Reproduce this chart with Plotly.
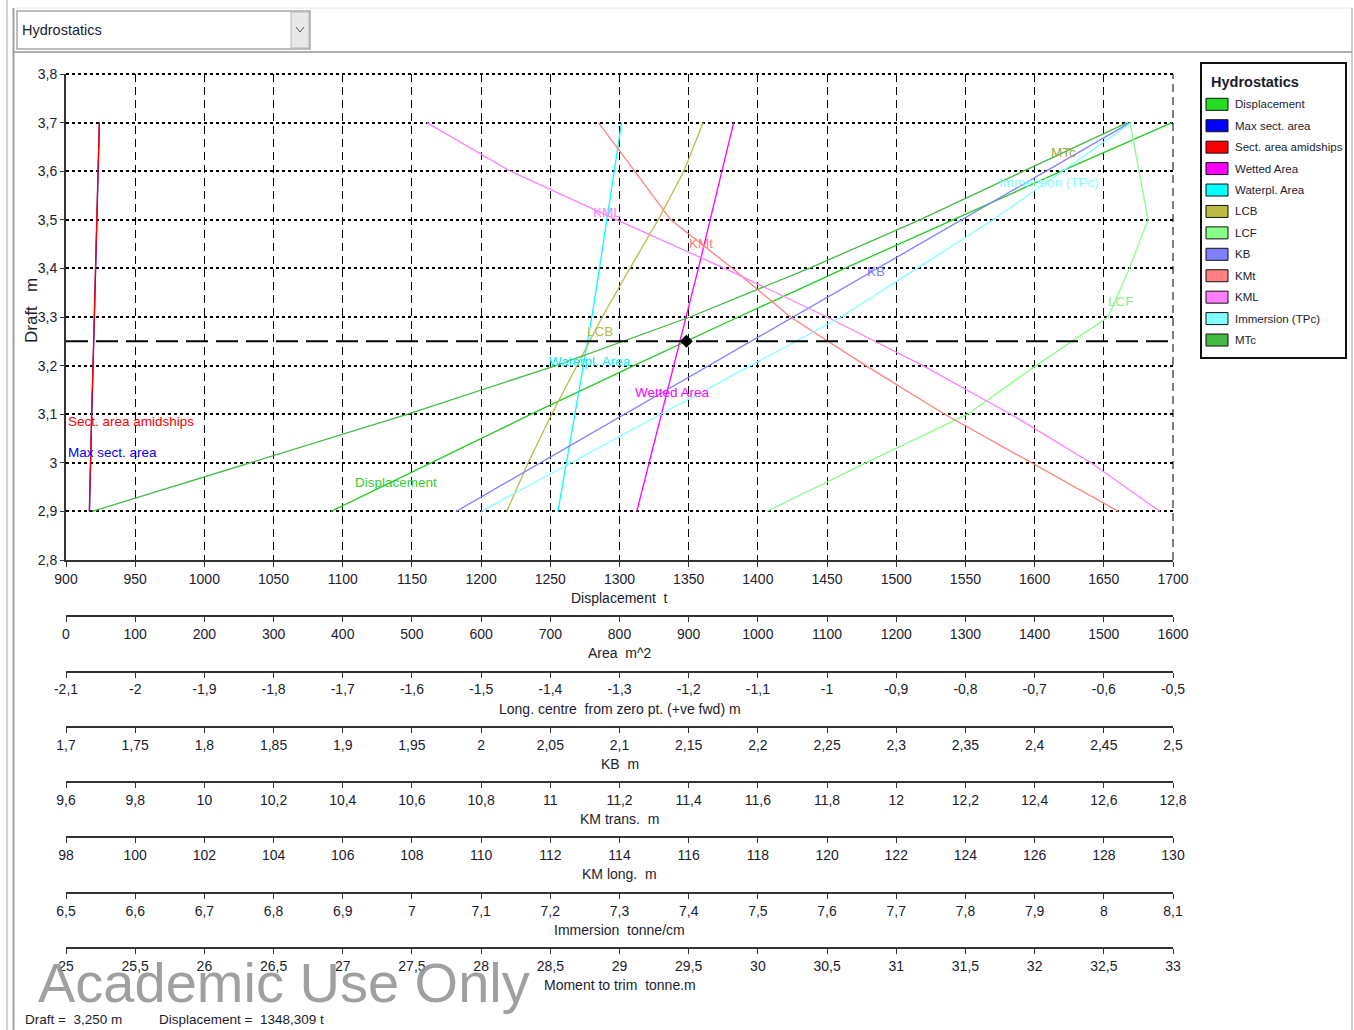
import plotly.graph_objects as go

# ---------------- data ----------------
drafts = [2.9, 3.0, 3.1, 3.2, 3.3, 3.4, 3.5, 3.6, 3.7]
displacement = [1091.5, 1163.2, 1236.1, 1310.4, 1385.9, 1462.7, 1540.5, 1619.4, 1699.3]
max_sect_area = [33.9, 35.2, 37.2, 39.2, 41.1, 42.8, 44.7, 46.6, 48.3]
sect_area_amidships = [33.7, 35.0, 37.0, 39.0, 40.9, 42.6, 44.5, 46.4, 48.1]
wetted_area = [825, 843, 861, 879, 896, 914, 931, 948, 965]
waterpl_area = [711, 723.5, 736, 748, 760, 771, 782, 793, 803]
lcb = [-1.463, -1.432, -1.398, -1.362, -1.325, -1.285, -1.244, -1.207, -1.179]
lcf = [-1.087, -0.944, -0.797, -0.698, -0.594, -0.563, -0.536, -0.549, -0.562]
kb = [1.982, 2.043, 2.104, 2.165, 2.226, 2.287, 2.347, 2.408, 2.469]
kmt = [12.642, 12.39, 12.14, 11.912, 11.694, 11.527, 11.348, 11.244, 11.139]
kml = [129.62, 127.63, 125.31, 122.77, 120.0, 117.04, 113.92, 110.85, 108.43]
immersion = [7.10, 7.23, 7.36, 7.49, 7.62, 7.73, 7.84, 7.94, 8.04]
mtc = [25.19, 26.33, 27.47, 28.54, 29.51, 30.37, 31.17, 31.92, 32.67]

current_draft = 3.25
current_displacement = 1348.309

draft_tick_labels = ["2,8", "2,9", "3", "3,1", "3,2", "3,3", "3,4", "3,5", "3,6", "3,7", "3,8"]
disp_tick_labels = ["900", "950", "1000", "1050", "1100", "1150", "1200", "1250", "1300", "1350",
                    "1400", "1450", "1500", "1550", "1600", "1650", "1700"]
area_tick_labels = ["0", "100", "200", "300", "400", "500", "600", "700", "800", "900",
                    "1000", "1100", "1200", "1300", "1400", "1500", "1600"]
lc_tick_labels = ["-2,1", "-2", "-1,9", "-1,8", "-1,7", "-1,6", "-1,5", "-1,4", "-1,3", "-1,2",
                  "-1,1", "-1", "-0,9", "-0,8", "-0,7", "-0,6", "-0,5"]
kb_tick_labels = ["1,7", "1,75", "1,8", "1,85", "1,9", "1,95", "2", "2,05", "2,1", "2,15",
                  "2,2", "2,25", "2,3", "2,35", "2,4", "2,45", "2,5"]
kmt_tick_labels = ["9,6", "9,8", "10", "10,2", "10,4", "10,6", "10,8", "11", "11,2", "11,4",
                   "11,6", "11,8", "12", "12,2", "12,4", "12,6", "12,8"]
kml_tick_labels = ["98", "100", "102", "104", "106", "108", "110", "112", "114", "116",
                   "118", "120", "122", "124", "126", "128", "130"]
imm_tick_labels = ["6,5", "6,6", "6,7", "6,8", "6,9", "7", "7,1", "7,2", "7,3", "7,4",
                   "7,5", "7,6", "7,7", "7,8", "7,9", "8", "8,1"]
mtc_tick_labels = ["25", "25,5", "26", "26,5", "27", "27,5", "28", "28,5", "29", "29,5",
                   "30", "30,5", "31", "31,5", "32", "32,5", "33"]

legend_names = ["Displacement", "Max sect. area", "Sect. area amidships", "Wetted Area",
                "Waterpl. Area", "LCB", "LCF", "KB", "KMt", "KML", "Immersion (TPc)", "MTc"]

# ---------------- helpers / styles ----------------
W, H = 1354, 1030
FONT = "Liberation Sans Narrow, Arial Narrow, Liberation Sans, Arial, sans-serif"
TXT = "#1c1c2c"


def px(x):
    return x / W


def py(y):
    return 1 - y / H


def num(labels):
    return [float(s.replace(",", ".")) for s in labels]


COLORS = {
    "Displacement": "#22cc22", "Max sect. area": "#0000ff", "Sect. area amidships": "#ff0000",
    "Wetted Area": "#ff00ff", "Waterpl. Area": "#00ffff", "LCB": "#bbbb44", "LCF": "#88ff88",
    "KB": "#8080ff", "KMt": "#ff8080", "KML": "#ff80ff", "Immersion (TPc)": "#80ffff", "MTc": "#44bb44",
}
LEG_COLORS = dict(COLORS, **{"Displacement": "#22dd22"})

fig = go.Figure()

series = [
    ("Displacement", displacement, "x"),
    ("Max sect. area", max_sect_area, "x2"),
    ("Sect. area amidships", sect_area_amidships, "x2"),
    ("Wetted Area", wetted_area, "x2"),
    ("Waterpl. Area", waterpl_area, "x2"),
    ("LCB", lcb, "x3"),
    ("LCF", lcf, "x3"),
    ("KB", kb, "x4"),
    ("KMt", kmt, "x5"),
    ("KML", kml, "x6"),
    ("Immersion (TPc)", immersion, "x7"),
    ("MTc", mtc, "x8"),
]
for name, vals, xa in series:
    fig.add_trace(go.Scatter(x=vals, y=drafts, xaxis=xa, yaxis="y", mode="lines", name=name,
                             line=dict(color=COLORS[name], width=1.3), showlegend=False,
                             hoverinfo="skip"))

fig.add_trace(go.Scatter(x=[current_displacement], y=[current_draft], xaxis="x", yaxis="y",
                         mode="markers", marker=dict(symbol="diamond", size=10, color="black"),
                         showlegend=False, hoverinfo="skip"))

# ---------------- axes ----------------
x_dom = [px(66), px(1173)]
common = dict(showline=True, linecolor="#333333", linewidth=2, ticks="outside", ticklen=5,
              tickcolor="#333333", tickwidth=1, zeroline=False, tickmode="array",
              automargin=False,
              tickfont=dict(family=FONT, size=14, color=TXT), fixedrange=True)

layout_axes = {}
dv = num(disp_tick_labels)
layout_axes["xaxis"] = dict(domain=x_dom, range=[dv[0], dv[-1]], anchor="y", tickvals=dv,
                            ticktext=disp_tick_labels, showgrid=True, gridcolor="black",
                            gridwidth=1, griddash="8px,5px", **common)
yv = num(draft_tick_labels)
layout_axes["yaxis"] = dict(domain=[py(560), py(74)], range=[yv[0], yv[-1]], anchor="x",
                            tickvals=yv, ticktext=draft_tick_labels, showgrid=True,
                            gridcolor="black", gridwidth=2, griddash="3px,3px",
                            **dict(common, ticklen=4))

extra_axes = [
    (2, area_tick_labels, 616, "Area\u00a0\u00a0m^2"),
    (3, lc_tick_labels, 671.5, "Long. centre\u00a0\u00a0from zero pt. (+ve fwd) m"),
    (4, kb_tick_labels, 726.8, "KB\u00a0\u00a0m"),
    (5, kmt_tick_labels, 782, "KM trans.\u00a0\u00a0m"),
    (6, kml_tick_labels, 837.3, "KM long.\u00a0\u00a0m"),
    (7, imm_tick_labels, 892.7, "Immersion\u00a0\u00a0tonne/cm"),
    (8, mtc_tick_labels, 948, "Moment to trim\u00a0\u00a0tonne.m"),
]
annotations = []
for i, labels, line_y, title in extra_axes:
    v = num(labels)
    layout_axes[f"xaxis{i}"] = dict(domain=x_dom, range=[v[0], v[-1]], overlaying="x",
                                    anchor="free", position=py(line_y), side="bottom",
                                    tickvals=v, ticktext=labels, showgrid=False, **common)
    annotations.append(dict(text=title, x=px(619.5), y=py(line_y + 37), xref="paper", yref="paper",
                            xanchor="center", yanchor="middle", showarrow=False,
                            font=dict(family=FONT, size=14, color=TXT)))

annotations.append(dict(text="Displacement\u00a0\u00a0t", x=px(619.5), y=py(598), xref="paper",
                        yref="paper", xanchor="center", yanchor="middle", showarrow=False,
                        font=dict(family=FONT, size=14, color=TXT)))
annotations.append(dict(text="Draft\u00a0\u00a0\u00a0m", x=px(31), y=py(310), xref="paper",
                        yref="paper", xanchor="center", yanchor="middle", showarrow=False,
                        textangle=-90, font=dict(family="Liberation Sans, Arial, sans-serif",
                                                 size=17, color=TXT)))

# curve labels
curve_labels = [
    ("Sect. area amidships", 66, 421.5, "#ff0000"),
    ("Max sect. area", 66, 452, "#0000ff"),
    ("Displacement", 353, 482, "#33cc33"),
    ("Waterpl. Area", 547, 362, "#00eeee"),
    ("LCB", 585, 331.5, "#bbbb44"),
    ("Wetted Area", 633, 393, "#ff00ff"),
    ("KML", 591, 212.5, "#ff80ff"),
    ("KMt", 687, 243, "#ff8080"),
    ("KB", 865, 272, "#8080ff"),
    ("LCF", 1106, 301, "#88ee88"),
    ("Immersion (TPc)", 997, 182, "#80ffff"),
    ("MTc", 1049, 152, "#99aa44"),
]
for text, x, y, col in curve_labels:
    annotations.append(dict(text=text, x=px(x), y=py(y), xref="paper", yref="paper",
                            xanchor="left", yanchor="middle", showarrow=False,
                            font=dict(family=FONT, size=13.5, color=col)))

shapes = []
# current draft line and edge grid lines
shapes.append(dict(type="line", xref="x domain", yref="y", x0=0, x1=1, y0=current_draft,
                   y1=current_draft, line=dict(color="black", width=2, dash="22px,8px")))
shapes.append(dict(type="line", xref="x domain", yref="y domain", x0=1, x1=1, y0=0, y1=1,
                   line=dict(color="black", width=1, dash="8px,5px"), layer="below"))
shapes.append(dict(type="line", xref="x domain", yref="y domain", x0=0, x1=1, y0=1, y1=1,
                   line=dict(color="black", width=2, dash="3px,3px"), layer="below"))

# legend box
shapes.append(dict(type="rect", xref="paper", yref="paper", x0=px(1201), x1=px(1346),
                   y0=py(358), y1=py(63), line=dict(color="#111111", width=2), fillcolor="white"))
annotations.append(dict(text="<b>Hydrostatics</b>", x=px(1209), y=py(82), xref="paper",
                        yref="paper", xanchor="left", yanchor="middle", showarrow=False,
                        font=dict(family=FONT, size=14.5, color=TXT)))
for k, name in enumerate(legend_names):
    yc = 104.3 + k * 21.43
    shapes.append(dict(type="rect", xref="paper", yref="paper", x0=px(1206), x1=px(1228),
                       y0=py(yc + 6), y1=py(yc - 6), line=dict(color="#111111", width=1),
                       fillcolor=LEG_COLORS[name]))
    annotations.append(dict(text=name, x=px(1233), y=py(yc), xref="paper", yref="paper",
                            xanchor="left", yanchor="middle", showarrow=False,
                            font=dict(family=FONT, size=11.5, color=TXT)))

# window frame
frame = [
    (7, 0, 7, 1030, "#d4d4d4", 2),
    (13.5, 8, 13.5, 1030, "#a0a0a0", 2),
    (1352, 8, 1352, 1030, "#cfcfcf", 2),
    (14, 8, 1352, 8, "#e6e6e6", 1),
    (14, 52, 1352, 52, "#b0b0b0", 2),
]
for x0, y0, x1, y1, col, w in frame:
    shapes.append(dict(type="line", xref="paper", yref="paper", x0=px(x0), x1=px(x1),
                       y0=py(y0), y1=py(y1), line=dict(color=col, width=w)))

# dropdown
shapes.append(dict(type="rect", xref="paper", yref="paper", x0=px(17), x1=px(310),
                   y0=py(49), y1=py(11), line=dict(color="#a8a8a8", width=1.5), fillcolor="white"))
shapes.append(dict(type="rect", xref="paper", yref="paper", x0=px(291), x1=px(309),
                   y0=py(48), y1=py(12), line=dict(color="#b4b4b4", width=1), fillcolor="#e8e8e8"))
shapes.append(dict(type="path", xref="paper", yref="paper",
                   path=f"M {px(296)},{py(27)} L {px(300)},{py(32)} L {px(304)},{py(27)}",
                   line=dict(color="#555555", width=1)))
annotations.append(dict(text="Hydrostatics", x=px(20), y=py(30), xref="paper", yref="paper",
                        xanchor="left", yanchor="middle", showarrow=False,
                        font=dict(family=FONT, size=14.5, color=TXT)))

# status bar
draft_txt = f"{current_draft:.3f}".replace(".", ",")
disp_txt = f"{current_displacement:.3f}".replace(".", ",")
annotations.append(dict(text=f"Draft =\u00a0\u00a0{draft_txt} m", x=px(23), y=py(1019),
                        xref="paper", yref="paper", xanchor="left", yanchor="middle",
                        showarrow=False, font=dict(family=FONT, size=13.5, color=TXT)))
annotations.append(dict(text=f"Displacement =\u00a0\u00a0{disp_txt} t", x=px(157), y=py(1019),
                        xref="paper", yref="paper", xanchor="left", yanchor="middle",
                        showarrow=False, font=dict(family=FONT, size=13.5, color=TXT)))

# watermark
annotations.append(dict(text="Academic Use Only", x=px(36), y=py(982), xref="paper", yref="paper",
                        xanchor="left", yanchor="middle", showarrow=False,
                        font=dict(family=FONT, size=56, color="rgba(150,150,150,0.9)")))

fig.update_layout(
    width=W, height=H, margin=dict(l=0, r=0, t=0, b=0, autoexpand=False),
    paper_bgcolor="white", plot_bgcolor="white",
    showlegend=False, shapes=shapes, annotations=annotations,
    font=dict(family=FONT, size=14, color=TXT),
    **layout_axes,
)

fig.write_html("out.html", config={"displayModeBar": False, "staticPlot": True},
               post_script="document.body.style.margin='0px';document.body.style.overflow='hidden';")
